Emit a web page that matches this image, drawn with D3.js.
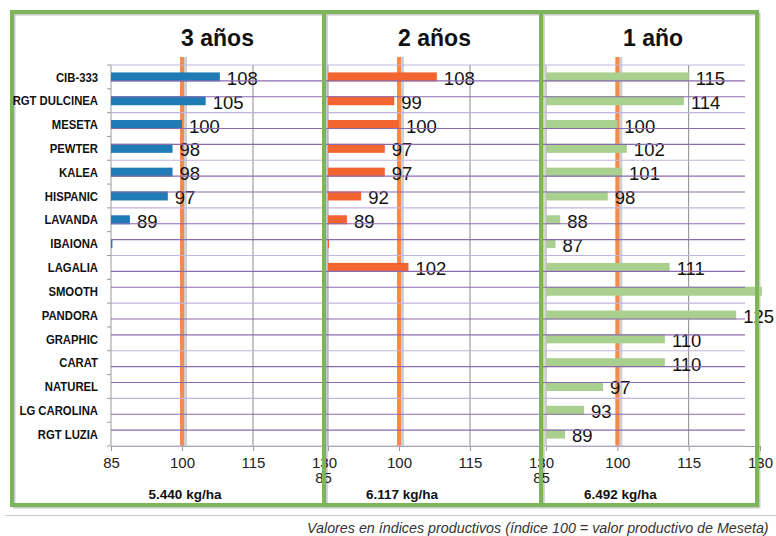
<!DOCTYPE html>
<html>
<head>
<meta charset="utf-8">
<script src="https://cdn.jsdelivr.net/npm/d3@7"></script>
<style>
  body { margin: 0; background: #fff; }
  svg { display: block; }
</style>
</head>
<body>
<div class="chart"></div>
<script>
// data
const categories = ["CIB-333", "RGT DULCINEA", "MESETA", "PEWTER", "KALEA", "HISPANIC",
  "LAVANDA", "IBAIONA", "LAGALIA", "SMOOTH", "PANDORA", "GRAPHIC", "CARAT", "NATUREL",
  "LG CAROLINA", "RGT LUZIA"];
const titles = ["3 años", "2 años", "1 año"];
const yields = ["5.440 kg/ha", "6.117 kg/ha", "6.492 kg/ha"];
const values3 = [108, 105, 100, 98, 98, 97, 89, 85.3, null, null, null, null, null, null, null, null];
const values2 = [108, 99, 100, 97, 97, 92, 89, 85.2, 102, null, null, null, null, null, null, null];
const values1 = [115, 114, 100, 102, 101, 98, 88, 87, 111, 132, 125, 110, 110, 97, 93, 89];
const xTicks = [85, 100, 115, 130];
const footnote = "Valores en índices productivos (índice 100 = valor productivo de Meseta)";

const width = 776, height = 536;
const plotTop = 65, plotBottom = 446;

const svg = d3.select(".chart").append("svg")
  .attr("width", width)
  .attr("height", height);

const y = d3.scaleBand().domain(categories).range([plotTop, plotBottom]);

const panels = [
  { title: titles[0], yld: yields[0], values: values3, color: "#1f7bb6", range: [111, 324], box: [12, 324] },
  { title: titles[1], yld: yields[1], values: values2, color: "#f26430", range: [328, 541], box: [324, 541] },
  { title: titles[2], yld: yields[2], values: values1, color: "#a9d08e", range: [546, 760], box: [541, 757] }
];

//green frames with a soft shadow
panels.forEach((p) => {
  svg.append("rect")
    .attr("x", p.box[0] + 2).attr("y", 14)
    .attr("width", p.box[1] - p.box[0]).attr("height", 493)
    .attr("fill", "none").attr("stroke", "#c9c9c9").attr("stroke-width", 3);
});

//bottom separator and footnote
svg.append("line")
  .attr("x1", 5).attr("x2", width).attr("y1", 515.5).attr("y2", 515.5)
  .attr("stroke", "#c8c8c8").attr("stroke-width", 1);

svg.append("text")
  .attr("x", 307).attr("y", 533)
  .attr("font-family", "Liberation Sans, Arial, sans-serif")
  .attr("font-style", "italic")
  .attr("font-size", 14.3)
  .attr("fill", "#333")
  .text(footnote);

panels.forEach((p, pi) => {
  const x = d3.scaleLinear().domain([85, 130]).range(p.range);
  const g = svg.append("g");

  //title
  g.append("text")
    .attr("x", (p.range[0] + p.range[1]) / 2)
    .attr("y", 46)
    .attr("text-anchor", "middle")
    .attr("font-family", "Liberation Sans, Arial, sans-serif")
    .attr("font-weight", "bold")
    .attr("font-size", 23)
    .attr("fill", "#111")
    .text(p.title);

  //vertical gridline at 115
  g.append("line")
    .attr("x1", x(115)).attr("x2", x(115))
    .attr("y1", plotTop).attr("y2", plotBottom)
    .attr("stroke", "#8a8a8a").attr("stroke-width", 1);

  //reference line at 100 (behind the bars)
  g.append("line")
    .attr("x1", x(100) + 2).attr("x2", x(100) + 2)
    .attr("y1", 57).attr("y2", plotBottom)
    .attr("stroke", "#d0d0d0").attr("stroke-width", 6);
  g.append("line")
    .attr("x1", x(100)).attr("x2", x(100))
    .attr("y1", 57).attr("y2", plotBottom)
    .attr("stroke", "#f58a4b").attr("stroke-width", 4);

  //y axis line
  g.append("line")
    .attr("x1", p.range[0]).attr("x2", p.range[0])
    .attr("y1", plotTop).attr("y2", plotBottom)
    .attr("stroke", "#9a9a9a").attr("stroke-width", 1);

  //x axis
  const xAxis = d3.axisBottom(x).tickValues(xTicks).tickSize(5).tickPadding(6);
  const ax = g.append("g")
    .attr("transform", `translate(0, ${plotBottom})`)
    .call(xAxis);
  ax.select(".domain").attr("stroke", "#9a9a9a");
  ax.selectAll(".tick line").attr("stroke", "#9a9a9a");
  ax.selectAll(".tick text")
    .attr("font-family", "Liberation Sans Narrow, Arial Narrow, sans-serif")
    .attr("font-size", 15)
    .attr("fill", "#222");
  if (pi > 0) {
    ax.selectAll(".tick text")
      .filter((d) => d === 85)
      .attr("x", -5)
      .attr("dy", "1.75em");
  }

  //bars
  const rows = categories.map((c, i) => ({ cat: c, v: p.values[i] })).filter((d) => d.v != null);
  const barH = 9;
  g.selectAll("rect.bar")
    .data(rows)
    .enter()
    .append("rect")
    .attr("class", "bar")
    .attr("x", x(85))
    .attr("y", (d) => y(d.cat) + y.bandwidth() / 2 - barH / 2)
    .attr("width", (d) => Math.max(1, x(Math.min(d.v, 130.4)) - x(85)))
    .attr("height", barH)
    .attr("fill", p.color);

  //value labels
  g.selectAll("text.val")
    .data(rows.filter((d) => d.v > 85.5 && d.v <= 130))
    .enter()
    .append("text")
    .attr("class", "val")
    .attr("x", (d) => x(d.v) + 7)
    .attr("y", (d) => y(d.cat) + y.bandwidth() / 2 + 8)
    .attr("font-family", "Liberation Sans Narrow, Arial Narrow, sans-serif")
    .attr("font-size", 18.5)
    .attr("fill", "#111")
    .text((d) => d.v);

  //yield subtitle
  g.append("text")
    .attr("x", x(100) + 3)
    .attr("y", 499)
    .attr("text-anchor", "middle")
    .attr("font-family", "Liberation Sans, Arial, sans-serif")
    .attr("font-weight", "bold")
    .attr("font-size", 13.5)
    .attr("fill", "#111")
    .text(p.yld);
});

//purple grid overlay
const x0 = panels[0].range[0];
const gridLines = d3.range(25);
const gy = d3.scaleLinear().domain([0, 24]).range([plotTop, plotBottom]);
svg.selectAll("line.grid")
  .data(gridLines)
  .enter()
  .append("line")
  .attr("x1", x0).attr("x2", 745)
  .attr("y1", (d) => gy(d)).attr("y2", (d) => gy(d))
  .attr("stroke", (d) => (d % 3 === 0 ? "#c4b3dc" : "#8b6bb0"))
  .attr("stroke-width", 1.2);

//green frames
panels.forEach((p) => {
  svg.append("rect")
    .attr("x", p.box[0]).attr("y", 12)
    .attr("width", p.box[1] - p.box[0]).attr("height", 493)
    .attr("fill", "none").attr("stroke", "#7cb55a").attr("stroke-width", 4);
});

//category labels and left ticks
svg.selectAll("line.ytick")
  .data(categories.concat(["end"]))
  .enter()
  .append("line")
  .attr("x1", x0 - 4).attr("x2", x0)
  .attr("y1", (d) => (d === "end" ? plotBottom : y(d)))
  .attr("y2", (d) => (d === "end" ? plotBottom : y(d)))
  .attr("stroke", "#9a9a9a");

svg.selectAll("text.cat")
  .data(categories)
  .enter()
  .append("text")
  .attr("class", "cat")
  .attr("transform", (d) => `translate(98, ${y(d) + y.bandwidth() / 2 + 4.7}) scale(0.87, 1)`)
  .attr("text-anchor", "end")
  .attr("font-family", "Liberation Sans, Arial, sans-serif")
  .attr("font-weight", "bold")
  .attr("font-size", 13)
  .attr("fill", "#111")
  .text((d) => d);
</script>
</body>
</html>
